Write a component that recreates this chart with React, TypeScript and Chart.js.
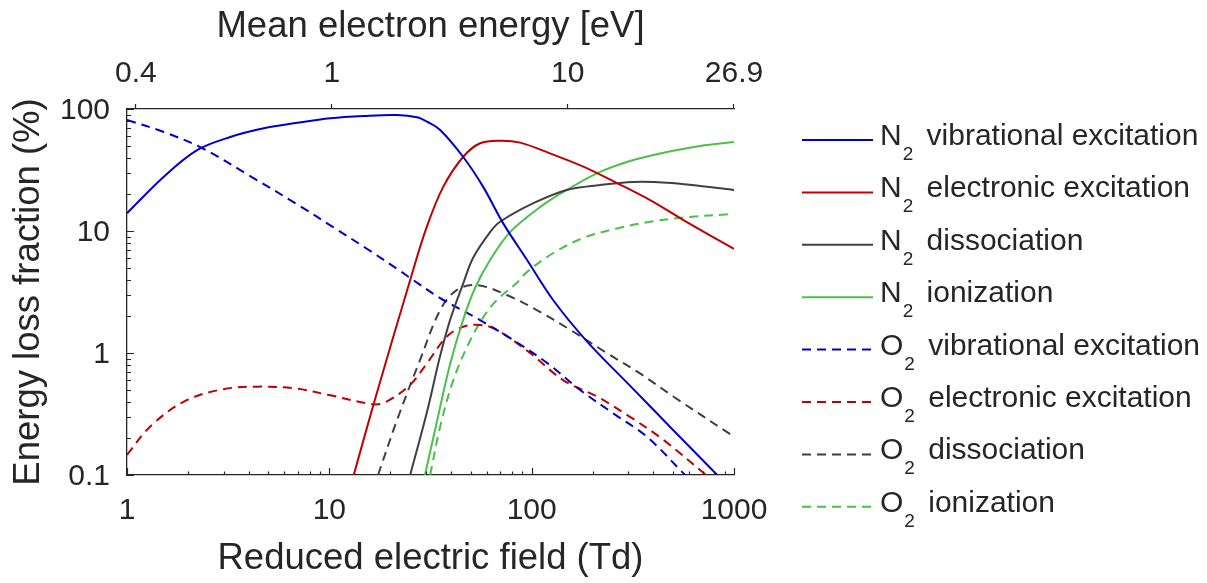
import React, { useEffect, useRef } from 'react';
import { Chart, registerables } from 'chart.js';

Chart.register(...registerables);

// ---------- data ----------
const xTicks = [1, 10, 100, 1000];
const yTicks = [0.1, 1, 10, 100];
const yTickLabels = ['0.1', '1', '10', '100'];
// top axis: reduced field (Td) where each mean-energy label sits
const topTickTd = [1.107, 10.3, 150.7, 1000];
const topTickLabels = ['0.4', '1', '10', '26.9'];

const seriesLabels = [
  'N2 vibrational excitation',
  'N2 electronic excitation',
  'N2 dissociation',
  'N2 ionization',
  'O2 vibrational excitation',
  'O2 electronic excitation',
  'O2 dissociation',
  'O2 ionization',
];

const n2VibTd = [1, 1.52, 2.22, 3.24, 4.74, 6.92, 10.1, 14.8, 21.6, 27.1, 30.4, 35.3, 45.8, 57.5, 72.2, 94.9, 127.6, 188, 306, 500, 826];
const n2VibVal = [14.0, 27.9, 46, 59, 69.5, 77, 84, 87.7, 89.3, 85.5, 78.7, 67.3, 40.6, 23.1, 11.6, 5.78, 2.72, 1.24, 0.54, 0.234, 0.1];

const n2ElecTd = [13.2, 16.6, 25.1, 30.3, 36.6, 45.9, 55.6, 69.8, 87.7, 123, 180, 264, 385, 562, 1000];
const n2ElecVal = [0.1, 0.387, 3.97, 10.8, 23.1, 40.6, 52.4, 55.0, 53, 43.3, 33.7, 24.7, 17.9, 12.3, 7.12];

const n2DissTd = [25.1, 30.4, 35.2, 39.5, 45.8, 51.3, 62.3, 69.8, 102, 149, 218, 318, 466, 680, 1000];
const n2DissVal = [0.1, 0.33, 0.93, 1.86, 3.68, 6.01, 9.8, 11.9, 16.9, 21.7, 23.8, 25.2, 24.9, 23.4, 21.7];

const n2IonTd = [29.7, 34.5, 39.5, 45.8, 52.5, 62.3, 78.2, 110, 149, 218, 318, 466, 680, 1000];
const n2IonVal = [0.1, 0.305, 0.81, 1.86, 3.41, 5.78, 9.8, 15.7, 21.7, 30.5, 38.2, 44.4, 49.8, 53.7];

const o2VibTd = [1, 1.52, 2.35, 4.06, 7.17, 10.4, 15.4, 22.4, 25.1, 35.3, 55.6, 80.9, 119, 173, 253, 372, 573];
const o2VibVal = [81.3, 64.8, 47.9, 28.2, 16.0, 10.8, 7.12, 4.7, 4.12, 2.82, 1.86, 1.28, 0.83, 0.5, 0.32, 0.205, 0.1];

const o2ElecTd = [1, 1.3, 1.91, 2.89, 4.39, 6.92, 10.1, 16.6, 19.2, 25.1, 30.3, 38.0, 45.9, 55.6, 67.2, 98.2, 143, 210, 306, 448, 728];
const o2ElecVal = [0.146, 0.249, 0.4, 0.5, 0.53, 0.51, 0.45, 0.38, 0.4, 0.55, 0.82, 1.36, 1.64, 1.7, 1.55, 1.0, 0.6, 0.44, 0.3, 0.194, 0.1];

const o2DissTd = [17.4, 21.9, 28.1, 35.3, 42.6, 53.5, 75.3, 106, 155, 235, 343, 501, 1000];
const o2DissVal = [0.1, 0.3, 0.88, 2.25, 3.28, 3.61, 2.99, 2.25, 1.55, 1.0, 0.68, 0.44, 0.206];

const o2IonTd = [31.5, 35.3, 41.0, 49.6, 60.0, 69.8, 84.4, 94.6, 128, 180, 264, 385, 562, 1000];
const o2IonVal = [0.1, 0.249, 0.6, 1.26, 2.17, 2.88, 3.75, 4.6, 6.6, 8.77, 10.5, 11.9, 12.9, 13.8];

// ---------- styles ----------
const FONT = "'Liberation Sans', Arial, Helvetica, sans-serif";
const TEXT = '#262626';
const AXIS = '#262626';
const BLUE = 'rgb(0,0,204)';
const RED = 'rgb(191,0,0)';
const GRAY = 'rgb(64,64,64)';
const GREEN = 'rgb(77,191,77)';
const DASH = [9, 6];

const pts = (xs: number[], ys: number[]) => xs.map((x, i) => ({ x, y: ys[i] }));

const axisTicksPlugin = {
  id: 'axisTicks',
  afterDraw(chart: any) {
    const { ctx, chartArea, scales } = chart;
    const xs = scales.x;
    const ys = scales.y;
    const x2 = scales.x2;
    ctx.save();
    ctx.strokeStyle = AXIS;
    ctx.lineWidth = 1.2;
    ctx.beginPath();
    for (let d = 1; d <= 1000; d *= 10) {
      for (let m = 1; m <= (d === 1000 ? 1 : 9); m++) {
        const px = Math.round(xs.getPixelForValue(d * m)) + 0.5;
        const len = m === 1 ? 7 : 3.5;
        ctx.moveTo(px, chartArea.bottom);
        ctx.lineTo(px, chartArea.bottom - len);
      }
    }
    for (let e = -1; e <= 2; e++) {
      const d = Math.pow(10, e);
      for (let m = 1; m <= (e === 2 ? 1 : 9); m++) {
        const py = Math.round(ys.getPixelForValue(d * m)) + 0.5;
        const len = m === 1 ? 7 : 4;
        ctx.moveTo(chartArea.left, py);
        ctx.lineTo(chartArea.left + len, py);
      }
    }
    topTickTd.forEach((v) => {
      const px = Math.round(x2.getPixelForValue(v)) - 0.5;
      ctx.moveTo(px, chartArea.top);
      ctx.lineTo(px, chartArea.top - 5);
    });
    ctx.stroke();
    ctx.restore();
  },
};

const legendPlugin = {
  id: 'subLegend',
  afterDraw(chart: any) {
    const ctx = chart.ctx;
    chart.data.datasets.forEach((ds: any, i: number) => {
      const y = 140 + i * 52.4;
      ctx.save();
      ctx.strokeStyle = ds.borderColor;
      ctx.lineWidth = 2;
      ctx.setLineDash(ds.borderDash || []);
      ctx.beginPath();
      ctx.moveTo(802, y);
      ctx.lineTo(873, y);
      ctx.stroke();
      ctx.setLineDash([]);
      ctx.fillStyle = TEXT;
      ctx.textAlign = 'left';
      ctx.textBaseline = 'alphabetic';
      const label: string = ds.label;
      const main = label[0];
      const sub = label[1];
      const rest = label.slice(2);
      ctx.font = `30px ${FONT}`;
      let x = 880;
      ctx.fillText(main, x, y + 5);
      x += ctx.measureText(main).width + 1;
      ctx.font = `19px ${FONT}`;
      ctx.fillText(sub, x, y + 20);
      x += ctx.measureText(sub).width + 5;
      ctx.font = `30px ${FONT}`;
      ctx.fillText(rest, x, y + 5);
      ctx.restore();
    });
  },
};

export default function App() {
  const ref = useRef<HTMLCanvasElement | null>(null);

  useEffect(() => {
    if (!ref.current) return;
    const series = [
      { td: n2VibTd, v: n2VibVal, c: BLUE, dash: [] as number[] },
      { td: n2ElecTd, v: n2ElecVal, c: RED, dash: [] as number[] },
      { td: n2DissTd, v: n2DissVal, c: GRAY, dash: [] as number[] },
      { td: n2IonTd, v: n2IonVal, c: GREEN, dash: [] as number[] },
      { td: o2VibTd, v: o2VibVal, c: BLUE, dash: DASH },
      { td: o2ElecTd, v: o2ElecVal, c: RED, dash: DASH },
      { td: o2DissTd, v: o2DissVal, c: GRAY, dash: DASH },
      { td: o2IonTd, v: o2IonVal, c: GREEN, dash: DASH },
    ];
    const chart = new Chart(ref.current, {
      type: 'line',
      data: {
        datasets: series.map((s, i) => ({
          label: seriesLabels[i],
          data: pts(s.td, s.v),
          borderColor: s.c,
          backgroundColor: s.c,
          borderWidth: 2,
          borderDash: s.dash,
          pointRadius: 0,
          fill: false,
          tension: 0.35,
          xAxisID: 'x',
          yAxisID: 'y',
        })),
      },
      options: {
        animation: false,
        responsive: false,
        devicePixelRatio: 1,
        layout: { padding: { left: 0, top: 0, right: 1207 - 734, bottom: 0 } },
        plugins: { legend: { display: false }, tooltip: { enabled: false } },
        scales: {
          x: {
            type: 'logarithmic',
            position: 'bottom',
            min: 1,
            max: 1000,
            grid: { display: false, drawTicks: false },
            border: { display: true, color: AXIS, width: 1.3 },
            afterBuildTicks: (scale: any) => {
              scale.ticks = xTicks.map((v) => ({ value: v }));
            },
            afterFit: (scale: any) => {
              scale.height = 108;
            },
            ticks: {
              color: TEXT,
              font: { family: FONT, size: 30 },
              padding: 18,
              maxRotation: 0,
              autoSkip: false,
              callback: (v: any) => String(v),
            },
            title: {
              display: true,
              text: 'Reduced electric field (Td)',
              color: TEXT,
              font: { family: FONT, size: 36.5 },
              padding: { top: 0, bottom: 2 },
            },
          },
          x2: {
            type: 'logarithmic',
            position: 'top',
            min: 1,
            max: 1000,
            grid: { display: false, drawTicks: false },
            border: { display: true, color: AXIS, width: 1.3 },
            afterBuildTicks: (scale: any) => {
              scale.ticks = topTickTd.map((v) => ({ value: v }));
            },
            afterFit: (scale: any) => {
              scale.height = 109;
            },
            ticks: {
              color: TEXT,
              font: { family: FONT, size: 30 },
              padding: 17,
              maxRotation: 0,
              autoSkip: false,
              callback: (_v: any, i: number) => topTickLabels[i],
            },
            title: {
              display: true,
              text: 'Mean electron energy [eV]',
              color: TEXT,
              font: { family: FONT, size: 36.5 },
              padding: { top: 5, bottom: 0 },
            },
          },
          y: {
            type: 'logarithmic',
            position: 'left',
            min: 0.1,
            max: 100,
            grid: { display: false, drawTicks: false },
            border: { display: true, color: AXIS, width: 1.3 },
            afterBuildTicks: (scale: any) => {
              scale.ticks = yTicks.map((v) => ({ value: v }));
            },
            afterFit: (scale: any) => {
              scale.width = 127;
            },
            ticks: {
              color: TEXT,
              font: { family: FONT, size: 30 },
              padding: 17,
              labelOffset: 2,
              autoSkip: false,
              callback: (_v: any, i: number) => yTickLabels[i],
            },
            title: {
              display: true,
              text: 'Energy loss fraction (%)',
              color: TEXT,
              font: { family: FONT, size: 36.5 },
              padding: { top: 7, bottom: 0 },
            },
          },
        },
      },
      plugins: [axisTicksPlugin, legendPlugin],
    } as any);
    return () => chart.destroy();
  }, []);

  return (
    <div style={{ position: 'fixed', left: 0, top: 0, width: 1207, height: 583, background: '#fff' }}>
      <canvas ref={ref} width={1207} height={583} style={{ display: 'block', width: 1207, height: 583 }} />
    </div>
  );
}
